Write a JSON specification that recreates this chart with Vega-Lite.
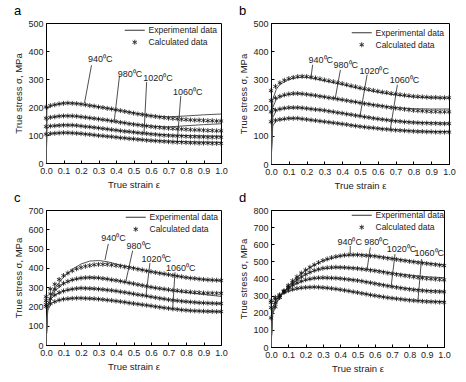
{
  "$schema": "https://vega.github.io/schema/vega-lite/v6.json",
  "padding": {"left": 13, "top": 4, "right": 4, "bottom": 2},
  "spacing": 1,
  "config": {
    "font": "Liberation Sans",
    "view": {"stroke": "#000", "strokeWidth": 1},
    "axis": {"labelFont": "Liberation Sans", "labelFontSize": 9, "titleFont": "Liberation Sans", "titleFontSize": 9.5, "titleFontWeight": "normal", "tickSize": -3, "labelPadding": 6, "grid": false, "domainColor": "#000", "tickColor": "#000", "labelColor": "#222", "titleColor": "#222", "titlePadding": 4, "labelOverlap": false, "labelFlush": false, "labelBound": false},
    "title": {"font": "Liberation Sans", "fontSize": 13, "fontWeight": "normal", "anchor": "start", "frame": "bounds", "offset": 1, "color": "#000"},
    "legend": {"orient": "none", "title": null, "labelFont": "Liberation Sans", "labelFontSize": 8.5, "labelColor": "#222", "symbolStrokeColor": "#333", "symbolFillColor": "transparent", "symbolStrokeWidth": 1, "symbolSize": 25, "labelOffset": 9.5, "rowPadding": 2, "padding": 0},
    "text": {"font": "Liberation Sans", "fontSize": 9, "color": "#222"}
  },
  "datasets": {
    "aC": [
      {"e":0,"t940":200,"t980":160,"t1020":130,"t1060":103},
      {"e":0.025,"t940":205,"t980":163,"t1020":132,"t1060":105},
      {"e":0.05,"t940":208,"t980":165,"t1020":133,"t1060":106},
      {"e":0.075,"t940":211,"t980":167,"t1020":134,"t1060":107},
      {"e":0.1,"t940":213,"t980":168,"t1020":135,"t1060":108},
      {"e":0.125,"t940":214,"t980":168,"t1020":135,"t1060":108},
      {"e":0.15,"t940":213,"t980":168,"t1020":135,"t1060":107},
      {"e":0.175,"t940":212,"t980":167,"t1020":134,"t1060":106},
      {"e":0.2,"t940":210,"t980":165,"t1020":132,"t1060":105},
      {"e":0.225,"t940":208,"t980":163,"t1020":130,"t1060":103},
      {"e":0.25,"t940":205,"t980":161,"t1020":129,"t1060":102},
      {"e":0.275,"t940":203,"t980":159,"t1020":127,"t1060":100},
      {"e":0.3,"t940":200,"t980":157,"t1020":125,"t1060":98},
      {"e":0.325,"t940":198,"t980":155,"t1020":123,"t1060":97},
      {"e":0.35,"t940":195,"t980":153,"t1020":121,"t1060":95},
      {"e":0.375,"t940":193,"t980":150,"t1020":119,"t1060":94},
      {"e":0.4,"t940":190,"t980":148,"t1020":117,"t1060":92},
      {"e":0.425,"t940":187,"t980":145,"t1020":115,"t1060":90},
      {"e":0.45,"t940":184,"t980":143,"t1020":113,"t1060":89},
      {"e":0.475,"t940":181,"t980":140,"t1020":112,"t1060":87},
      {"e":0.5,"t940":178,"t980":138,"t1020":110,"t1060":86},
      {"e":0.525,"t940":175,"t980":136,"t1020":108,"t1060":84},
      {"e":0.55,"t940":173,"t980":134,"t1020":106,"t1060":83},
      {"e":0.575,"t940":170,"t980":132,"t1020":105,"t1060":81},
      {"e":0.6,"t940":168,"t980":130,"t1020":103,"t1060":80},
      {"e":0.625,"t940":166,"t980":128,"t1020":102,"t1060":79},
      {"e":0.65,"t940":164,"t980":127,"t1020":100,"t1060":78},
      {"e":0.675,"t940":162,"t980":125,"t1020":99,"t1060":77},
      {"e":0.7,"t940":160,"t980":124,"t1020":98,"t1060":76},
      {"e":0.725,"t940":159,"t980":123,"t1020":97,"t1060":75},
      {"e":0.75,"t940":158,"t980":122,"t1020":96,"t1060":74},
      {"e":0.775,"t940":156,"t980":121,"t1020":96,"t1060":74},
      {"e":0.8,"t940":155,"t980":120,"t1020":95,"t1060":73},
      {"e":0.825,"t940":154,"t980":119,"t1020":94,"t1060":72},
      {"e":0.85,"t940":153,"t980":118,"t1020":94,"t1060":72},
      {"e":0.875,"t940":153,"t980":118,"t1020":93,"t1060":71},
      {"e":0.9,"t940":152,"t980":117,"t1020":93,"t1060":71},
      {"e":0.925,"t940":151,"t980":116,"t1020":92,"t1060":71},
      {"e":0.95,"t940":151,"t980":116,"t1020":92,"t1060":70},
      {"e":0.975,"t940":150,"t980":115,"t1020":92,"t1060":70},
      {"e":1,"t940":150,"t980":115,"t1020":92,"t1060":70}
    ],
    "aE": [
      {"e":0,"t940":0,"t980":0,"t1020":0,"t1060":0},
      {"e":0.005,"t940":190,"t980":150,"t1020":120,"t1060":95},
      {"e":0.02,"t940":203,"t980":162,"t1020":131,"t1060":104},
      {"e":0.05,"t940":208,"t980":165,"t1020":133,"t1060":106},
      {"e":0.1,"t940":214,"t980":169,"t1020":136,"t1060":108},
      {"e":0.15,"t940":214,"t980":168,"t1020":135,"t1060":107},
      {"e":0.2,"t940":211,"t980":165,"t1020":132,"t1060":105},
      {"e":0.3,"t940":201,"t980":157,"t1020":125,"t1060":98},
      {"e":0.4,"t940":190,"t980":148,"t1020":117,"t1060":92},
      {"e":0.5,"t940":179,"t980":139,"t1020":110,"t1060":86},
      {"e":0.6,"t940":169,"t980":132,"t1020":104,"t1060":81},
      {"e":0.65,"t940":166,"t980":130,"t1020":102,"t1060":79},
      {"e":0.7,"t940":165,"t980":129,"t1020":100,"t1060":78},
      {"e":0.8,"t940":168,"t980":133,"t1020":98,"t1060":76},
      {"e":0.9,"t940":172,"t980":137,"t1020":97,"t1060":75},
      {"e":1,"t940":175,"t980":140,"t1020":96,"t1060":74}
    ],
    "aR": [
      {"e":0.26,"s":349,"e2":0.22,"s2":214},
      {"e":0.42,"s":311,"e2":0.39,"s2":150},
      {"e":0.575,"s":289,"e2":0.56,"s2":105},
      {"e":0.77,"s":239,"e2":0.75,"s2":75}
    ],
    "aT": [
      {"label":"940⁰C","e":0.31,"s":371},
      {"label":"980⁰C","e":0.48,"s":319},
      {"label":"1020⁰C","e":0.64,"s":304},
      {"label":"1060⁰C","e":0.81,"s":254}
    ],
    "bC": [
      {"e":0,"t940":260,"t980":225,"t1020":185,"t1060":150},
      {"e":0.025,"t940":275,"t980":234,"t1020":191,"t1060":155},
      {"e":0.05,"t940":288,"t980":240,"t1020":195,"t1060":158},
      {"e":0.075,"t940":297,"t980":245,"t1020":198,"t1060":160},
      {"e":0.1,"t940":303,"t980":248,"t1020":200,"t1060":162},
      {"e":0.125,"t940":307,"t980":250,"t1020":200,"t1060":162},
      {"e":0.15,"t940":310,"t980":250,"t1020":200,"t1060":162},
      {"e":0.175,"t940":311,"t980":249,"t1020":199,"t1060":160},
      {"e":0.2,"t940":310,"t980":247,"t1020":197,"t1060":158},
      {"e":0.225,"t940":308,"t980":245,"t1020":195,"t1060":156},
      {"e":0.25,"t940":305,"t980":243,"t1020":193,"t1060":154},
      {"e":0.275,"t940":302,"t980":240,"t1020":192,"t1060":152},
      {"e":0.3,"t940":298,"t980":238,"t1020":190,"t1060":150},
      {"e":0.325,"t940":295,"t980":235,"t1020":187,"t1060":148},
      {"e":0.35,"t940":292,"t980":233,"t1020":185,"t1060":146},
      {"e":0.375,"t940":288,"t980":230,"t1020":182,"t1060":144},
      {"e":0.4,"t940":285,"t980":228,"t1020":180,"t1060":142},
      {"e":0.425,"t940":281,"t980":225,"t1020":177,"t1060":140},
      {"e":0.45,"t940":277,"t980":222,"t1020":175,"t1060":137},
      {"e":0.475,"t940":274,"t980":220,"t1020":172,"t1060":135},
      {"e":0.5,"t940":270,"t980":217,"t1020":170,"t1060":133},
      {"e":0.525,"t940":267,"t980":214,"t1020":167,"t1060":131},
      {"e":0.55,"t940":264,"t980":212,"t1020":165,"t1060":129},
      {"e":0.575,"t940":261,"t980":209,"t1020":162,"t1060":128},
      {"e":0.6,"t940":258,"t980":207,"t1020":160,"t1060":126},
      {"e":0.625,"t940":255,"t980":205,"t1020":158,"t1060":124},
      {"e":0.65,"t940":253,"t980":202,"t1020":156,"t1060":123},
      {"e":0.675,"t940":250,"t980":200,"t1020":154,"t1060":121},
      {"e":0.7,"t940":248,"t980":198,"t1020":152,"t1060":120},
      {"e":0.725,"t940":246,"t980":196,"t1020":151,"t1060":119},
      {"e":0.75,"t940":244,"t980":194,"t1020":149,"t1060":118},
      {"e":0.775,"t940":242,"t980":192,"t1020":148,"t1060":117},
      {"e":0.8,"t940":240,"t980":190,"t1020":147,"t1060":116},
      {"e":0.825,"t940":239,"t980":189,"t1020":146,"t1060":115},
      {"e":0.85,"t940":238,"t980":188,"t1020":145,"t1060":115},
      {"e":0.875,"t940":237,"t980":187,"t1020":145,"t1060":114},
      {"e":0.9,"t940":236,"t980":186,"t1020":144,"t1060":114},
      {"e":0.925,"t940":236,"t980":186,"t1020":144,"t1060":113},
      {"e":0.95,"t940":235,"t980":185,"t1020":143,"t1060":113},
      {"e":0.975,"t940":235,"t980":185,"t1020":143,"t1060":113},
      {"e":1,"t940":235,"t980":185,"t1020":143,"t1060":113}
    ],
    "bE": [
      {"e":0,"t940":0,"t980":0,"t1020":0,"t1060":0},
      {"e":0.01,"t940":230,"t980":200,"t1020":165,"t1060":135},
      {"e":0.03,"t940":265,"t980":230,"t1020":190,"t1060":155},
      {"e":0.05,"t940":282,"t980":238,"t1020":194,"t1060":157},
      {"e":0.1,"t940":300,"t980":247,"t1020":199,"t1060":161},
      {"e":0.15,"t940":307,"t980":250,"t1020":200,"t1060":162},
      {"e":0.2,"t940":308,"t980":247,"t1020":197,"t1060":158},
      {"e":0.3,"t940":295,"t980":238,"t1020":190,"t1060":150},
      {"e":0.4,"t940":282,"t980":228,"t1020":180,"t1060":142},
      {"e":0.5,"t940":267,"t980":217,"t1020":170,"t1060":133},
      {"e":0.6,"t940":255,"t980":208,"t1020":160,"t1060":126},
      {"e":0.7,"t940":245,"t980":200,"t1020":153,"t1060":121},
      {"e":0.8,"t940":238,"t980":196,"t1020":148,"t1060":117},
      {"e":0.9,"t940":235,"t980":195,"t1020":146,"t1060":115},
      {"e":1,"t940":234,"t980":195,"t1020":145,"t1060":115}
    ],
    "bR": [
      {"e":0.234,"s":352,"e2":0.225,"s2":308},
      {"e":0.39,"s":334,"e2":0.36,"s2":230},
      {"e":0.54,"s":317,"e2":0.5,"s2":170},
      {"e":0.71,"s":281,"e2":0.67,"s2":121}
    ],
    "bT": [
      {"label":"940⁰C","e":0.28,"s":368},
      {"label":"980⁰C","e":0.42,"s":352},
      {"label":"1020⁰C","e":0.58,"s":329},
      {"label":"1060⁰C","e":0.75,"s":297}
    ],
    "cC": [
      {"e":0,"t940":250,"t980":230,"t1020":210,"t1060":200},
      {"e":0.025,"t940":290,"t980":265,"t1020":240,"t1060":215},
      {"e":0.05,"t940":315,"t980":290,"t1020":260,"t1060":225},
      {"e":0.075,"t940":340,"t980":308,"t1020":272,"t1060":233},
      {"e":0.1,"t940":360,"t980":320,"t1020":280,"t1060":238},
      {"e":0.125,"t940":373,"t980":330,"t1020":286,"t1060":240},
      {"e":0.15,"t940":385,"t980":338,"t1020":290,"t1060":242},
      {"e":0.175,"t940":395,"t980":343,"t1020":293,"t1060":243},
      {"e":0.2,"t940":402,"t980":347,"t1020":295,"t1060":243},
      {"e":0.225,"t940":408,"t980":349,"t1020":294,"t1060":242},
      {"e":0.25,"t940":412,"t980":350,"t1020":293,"t1060":241},
      {"e":0.275,"t940":416,"t980":349,"t1020":292,"t1060":240},
      {"e":0.3,"t940":418,"t980":348,"t1020":290,"t1060":238},
      {"e":0.325,"t940":418,"t980":345,"t1020":288,"t1060":236},
      {"e":0.35,"t940":418,"t980":342,"t1020":285,"t1060":233},
      {"e":0.375,"t940":415,"t980":338,"t1020":283,"t1060":231},
      {"e":0.4,"t940":412,"t980":335,"t1020":280,"t1060":228},
      {"e":0.425,"t940":409,"t980":331,"t1020":276,"t1060":225},
      {"e":0.45,"t940":405,"t980":327,"t1020":273,"t1060":222},
      {"e":0.475,"t940":402,"t980":322,"t1020":269,"t1060":218},
      {"e":0.5,"t940":398,"t980":318,"t1020":265,"t1060":215},
      {"e":0.525,"t940":393,"t980":313,"t1020":261,"t1060":212},
      {"e":0.55,"t940":389,"t980":309,"t1020":258,"t1060":209},
      {"e":0.575,"t940":384,"t980":304,"t1020":254,"t1060":206},
      {"e":0.6,"t940":380,"t980":300,"t1020":250,"t1060":203},
      {"e":0.625,"t940":376,"t980":296,"t1020":246,"t1060":199},
      {"e":0.65,"t940":372,"t980":293,"t1020":242,"t1060":196},
      {"e":0.675,"t940":369,"t980":290,"t1020":239,"t1060":193},
      {"e":0.7,"t940":365,"t980":287,"t1020":235,"t1060":190},
      {"e":0.725,"t940":361,"t980":284,"t1020":232,"t1060":187},
      {"e":0.75,"t940":357,"t980":282,"t1020":230,"t1060":185},
      {"e":0.775,"t940":354,"t980":279,"t1020":227,"t1060":182},
      {"e":0.8,"t940":350,"t980":277,"t1020":225,"t1060":180},
      {"e":0.825,"t940":347,"t980":275,"t1020":223,"t1060":178},
      {"e":0.85,"t940":345,"t980":273,"t1020":221,"t1060":177},
      {"e":0.875,"t940":342,"t980":272,"t1020":219,"t1060":176},
      {"e":0.9,"t940":340,"t980":270,"t1020":218,"t1060":175},
      {"e":0.925,"t940":338,"t980":269,"t1020":217,"t1060":174},
      {"e":0.95,"t940":337,"t980":269,"t1020":216,"t1060":174},
      {"e":0.975,"t940":336,"t980":268,"t1020":215,"t1060":173},
      {"e":1,"t940":335,"t980":268,"t1020":215,"t1060":173}
    ],
    "cE": [
      {"e":0,"t940":0,"t980":0,"t1020":0,"t1060":0},
      {"e":0.01,"t940":210,"t980":200,"t1020":190,"t1060":180},
      {"e":0.03,"t940":260,"t980":250,"t1020":240,"t1060":215},
      {"e":0.05,"t940":295,"t980":280,"t1020":258,"t1060":225},
      {"e":0.1,"t940":352,"t980":318,"t1020":280,"t1060":238},
      {"e":0.15,"t940":392,"t980":338,"t1020":290,"t1060":242},
      {"e":0.2,"t940":420,"t980":347,"t1020":295,"t1060":243},
      {"e":0.25,"t940":435,"t980":350,"t1020":293,"t1060":241},
      {"e":0.3,"t940":438,"t980":348,"t1020":290,"t1060":238},
      {"e":0.35,"t940":432,"t980":342,"t1020":285,"t1060":233},
      {"e":0.4,"t940":420,"t980":335,"t1020":280,"t1060":228},
      {"e":0.5,"t940":400,"t980":318,"t1020":265,"t1060":215},
      {"e":0.6,"t940":381,"t980":300,"t1020":250,"t1060":203},
      {"e":0.7,"t940":365,"t980":285,"t1020":235,"t1060":190},
      {"e":0.8,"t940":350,"t980":272,"t1020":225,"t1060":180},
      {"e":0.9,"t940":340,"t980":262,"t1020":218,"t1060":175},
      {"e":1,"t940":333,"t980":252,"t1020":215,"t1060":173}
    ],
    "cR": [
      {"e":0.356,"s":524,"e2":0.337,"s2":441},
      {"e":0.495,"s":489,"e2":0.457,"s2":333},
      {"e":0.594,"s":425,"e2":0.571,"s2":255},
      {"e":0.737,"s":377,"e2":0.724,"s2":190}
    ],
    "cT": [
      {"label":"940⁰C","e":0.385,"s":553},
      {"label":"980⁰C","e":0.53,"s":515},
      {"label":"1020⁰C","e":0.63,"s":446},
      {"label":"1060⁰C","e":0.77,"s":398}
    ],
    "dC": [
      {"e":0,"t940":170,"t980":230,"t1020":260,"t1060":270},
      {"e":0.025,"t940":235,"t980":260,"t1020":280,"t1060":290},
      {"e":0.05,"t940":290,"t980":290,"t1020":300,"t1060":305},
      {"e":0.075,"t940":328,"t980":322,"t1020":325,"t1060":320},
      {"e":0.1,"t940":360,"t980":350,"t1020":345,"t1060":330},
      {"e":0.125,"t940":387,"t980":374,"t1020":362,"t1060":337},
      {"e":0.15,"t940":410,"t980":395,"t1020":375,"t1060":342},
      {"e":0.175,"t940":432,"t980":411,"t1020":385,"t1060":346},
      {"e":0.2,"t940":450,"t980":425,"t1020":393,"t1060":348},
      {"e":0.225,"t940":466,"t980":437,"t1020":398,"t1060":349},
      {"e":0.25,"t940":480,"t980":447,"t1020":402,"t1060":350},
      {"e":0.275,"t940":493,"t980":454,"t1020":404,"t1060":349},
      {"e":0.3,"t940":505,"t980":460,"t1020":405,"t1060":347},
      {"e":0.325,"t940":514,"t980":463,"t1020":404,"t1060":345},
      {"e":0.35,"t940":522,"t980":465,"t1020":403,"t1060":342},
      {"e":0.375,"t940":528,"t980":466,"t1020":402,"t1060":339},
      {"e":0.4,"t940":532,"t980":465,"t1020":400,"t1060":335},
      {"e":0.425,"t940":536,"t980":464,"t1020":397,"t1060":331},
      {"e":0.45,"t940":538,"t980":462,"t1020":394,"t1060":327},
      {"e":0.475,"t940":538,"t980":460,"t1020":391,"t1060":322},
      {"e":0.5,"t940":538,"t980":458,"t1020":388,"t1060":318},
      {"e":0.525,"t940":536,"t980":455,"t1020":384,"t1060":313},
      {"e":0.55,"t940":534,"t980":452,"t1020":379,"t1060":309},
      {"e":0.575,"t940":532,"t980":448,"t1020":375,"t1060":304},
      {"e":0.6,"t940":530,"t980":445,"t1020":370,"t1060":300},
      {"e":0.625,"t940":526,"t980":441,"t1020":365,"t1060":296},
      {"e":0.65,"t940":522,"t980":437,"t1020":361,"t1060":292},
      {"e":0.675,"t940":518,"t980":432,"t1020":356,"t1060":288},
      {"e":0.7,"t940":515,"t980":428,"t1020":352,"t1060":285},
      {"e":0.725,"t940":511,"t980":424,"t1020":348,"t1060":282},
      {"e":0.75,"t940":507,"t980":420,"t1020":344,"t1060":279},
      {"e":0.775,"t940":504,"t980":416,"t1020":340,"t1060":276},
      {"e":0.8,"t940":500,"t980":413,"t1020":337,"t1060":273},
      {"e":0.825,"t940":497,"t980":409,"t1020":334,"t1060":271},
      {"e":0.85,"t940":493,"t980":406,"t1020":331,"t1060":269},
      {"e":0.875,"t940":490,"t980":403,"t1020":329,"t1060":267},
      {"e":0.9,"t940":487,"t980":400,"t1020":327,"t1060":265},
      {"e":0.925,"t940":484,"t980":398,"t1020":325,"t1060":264},
      {"e":0.95,"t940":481,"t980":396,"t1020":324,"t1060":263},
      {"e":0.975,"t940":478,"t980":394,"t1020":323,"t1060":262},
      {"e":1,"t940":475,"t980":392,"t1020":322,"t1060":261}
    ],
    "dE": [
      {"e":0,"t940":0,"t980":0,"t1020":0,"t1060":0},
      {"e":0.01,"t940":200,"t980":190,"t1020":220,"t1060":230},
      {"e":0.03,"t940":250,"t980":255,"t1020":270,"t1060":280},
      {"e":0.05,"t940":290,"t980":290,"t1020":300,"t1060":300},
      {"e":0.1,"t940":355,"t980":345,"t1020":340,"t1060":325},
      {"e":0.15,"t940":405,"t980":390,"t1020":370,"t1060":340},
      {"e":0.2,"t940":445,"t980":422,"t1020":390,"t1060":347},
      {"e":0.25,"t940":478,"t980":445,"t1020":400,"t1060":350},
      {"e":0.3,"t940":503,"t980":458,"t1020":404,"t1060":347},
      {"e":0.4,"t940":532,"t980":465,"t1020":400,"t1060":335},
      {"e":0.5,"t940":540,"t980":460,"t1020":390,"t1060":318},
      {"e":0.6,"t940":532,"t980":448,"t1020":372,"t1060":300},
      {"e":0.7,"t940":518,"t980":432,"t1020":355,"t1060":285},
      {"e":0.8,"t940":503,"t980":420,"t1020":340,"t1060":275},
      {"e":0.9,"t940":490,"t980":410,"t1020":330,"t1060":268},
      {"e":1,"t940":480,"t980":405,"t1020":325,"t1060":265}
    ],
    "dR": [
      {"e":0.458,"s":590,"e2":0.458,"s2":543},
      {"e":0.574,"s":582,"e2":0.555,"s2":450},
      {"e":0.717,"s":543,"e2":0.694,"s2":350},
      {"e":0.87,"s":514,"e2":0.85,"s2":278}
    ],
    "dT": [
      {"label":"940⁰C","e":0.455,"s":615},
      {"label":"980⁰C","e":0.61,"s":615},
      {"label":"1020⁰C","e":0.755,"s":575},
      {"label":"1060⁰C","e":0.915,"s":550}
    ]
  },
  "resolve": {"scale": {"shape": "independent"}, "legend": {"shape": "independent"}},
  "vconcat": [
    {
      "spacing": 10,
      "resolve": {"scale": {"shape": "independent"}, "legend": {"shape": "independent"}},
      "hconcat": [
        {
          "title": "a", "width": 175, "height": 140,
          "encoding": {
            "x": {"field": "e", "type": "quantitative", "title": "True strain  ε", "scale": {"domain": [0,1], "nice": false}, "axis": {"values": [0,0.1,0.2,0.3,0.4,0.5,0.6,0.7,0.8,0.9,1], "format": ".1f"}},
            "y": {"field": "s", "type": "quantitative", "title": "True stress σ, MPa", "scale": {"domain": [0,500], "nice": false}, "axis": {"values": [0,100,200,300,400,500]}}
          },
          "layer": [
            {"data": {"name": "aE"}, "transform": [{"fold": ["t940","t980","t1020","t1060"], "as": ["T","s"]}],
             "mark": {"type": "line", "color": "#555", "strokeWidth": 1, "clip": true},
             "encoding": {"detail": {"field": "T"}}},
            {"data": {"name": "aC"}, "transform": [{"fold": ["t940","t980","t1020","t1060"], "as": ["T","s"]}],
             "mark": {"type": "point", "filled": false, "stroke": "#111", "strokeWidth": 0.8, "size": 25, "opacity": 1},
             "encoding": {"shape": {"datum": "Calculated data", "type": "nominal", "scale": {"domain": ["Experimental data","Calculated data"], "range": ["M-4,0H4", "M0,-1L0,1M-0.87,-0.5L0.87,0.5M-0.87,0.5L0.87,-0.5"]}, "legend": {"legendX": 84.5, "legendY": 3}}}},
            {"data": {"name": "aR"}, "mark": {"type": "rule", "color": "#222", "strokeWidth": 0.8},
             "encoding": {"x2": {"field": "e2"}, "y2": {"field": "s2"}}},
            {"data": {"name": "aT"}, "mark": {"type": "text", "align": "center", "baseline": "middle"},
             "encoding": {"text": {"field": "label"}}}
          ]
        },
        {
          "title": "b", "width": 178, "height": 141,
          "encoding": {
            "x": {"field": "e", "type": "quantitative", "title": "True strain  ε", "scale": {"domain": [0,1], "nice": false}, "axis": {"values": [0,0.1,0.2,0.3,0.4,0.5,0.6,0.7,0.8,0.9,1], "format": ".1f"}},
            "y": {"field": "s", "type": "quantitative", "title": "True stress σ, MPa", "scale": {"domain": [0,500], "nice": false}, "axis": {"values": [0,100,200,300,400,500]}}
          },
          "layer": [
            {"data": {"name": "bE"}, "transform": [{"fold": ["t940","t980","t1020","t1060"], "as": ["T","s"]}],
             "mark": {"type": "line", "color": "#555", "strokeWidth": 1, "clip": true},
             "encoding": {"detail": {"field": "T"}}},
            {"data": {"name": "bC"}, "transform": [{"fold": ["t940","t980","t1020","t1060"], "as": ["T","s"]}],
             "mark": {"type": "point", "filled": false, "stroke": "#111", "strokeWidth": 0.8, "size": 25, "opacity": 1},
             "encoding": {"shape": {"datum": "Calculated data", "type": "nominal", "scale": {"domain": ["Experimental data","Calculated data"], "range": ["M-4,0H4", "M0,-1L0,1M-0.87,-0.5L0.87,0.5M-0.87,0.5L0.87,-0.5"]}, "legend": {"legendX": 86.5, "legendY": 5.5}}}},
            {"data": {"name": "bR"}, "mark": {"type": "rule", "color": "#222", "strokeWidth": 0.8},
             "encoding": {"x2": {"field": "e2"}, "y2": {"field": "s2"}}},
            {"data": {"name": "bT"}, "mark": {"type": "text", "align": "center", "baseline": "middle"},
             "encoding": {"text": {"field": "label"}}}
          ]
        }
      ]
    },
    {
      "spacing": 10,
      "resolve": {"scale": {"shape": "independent"}, "legend": {"shape": "independent"}},
      "hconcat": [
        {
          "title": "c", "width": 175, "height": 135,
          "encoding": {
            "x": {"field": "e", "type": "quantitative", "title": "True strain  ε", "scale": {"domain": [0,1], "nice": false}, "axis": {"values": [0,0.1,0.2,0.3,0.4,0.5,0.6,0.7,0.8,0.9,1], "format": ".1f"}},
            "y": {"field": "s", "type": "quantitative", "title": "True stress σ, MPa", "scale": {"domain": [0,700], "nice": false}, "axis": {"values": [0,100,200,300,400,500,600,700]}}
          },
          "layer": [
            {"data": {"name": "cE"}, "transform": [{"fold": ["t940","t980","t1020","t1060"], "as": ["T","s"]}],
             "mark": {"type": "line", "color": "#555", "strokeWidth": 1, "clip": true},
             "encoding": {"detail": {"field": "T"}}},
            {"data": {"name": "cC"}, "transform": [{"fold": ["t940","t980","t1020","t1060"], "as": ["T","s"]}],
             "mark": {"type": "point", "filled": false, "stroke": "#111", "strokeWidth": 0.8, "size": 25, "opacity": 1},
             "encoding": {"shape": {"datum": "Calculated data", "type": "nominal", "scale": {"domain": ["Experimental data","Calculated data"], "range": ["M-4,0H4", "M0,-1L0,1M-0.87,-0.5L0.87,0.5M-0.87,0.5L0.87,-0.5"]}, "legend": {"legendX": 85.5, "legendY": 3}}}},
            {"data": {"name": "cR"}, "mark": {"type": "rule", "color": "#222", "strokeWidth": 0.8},
             "encoding": {"x2": {"field": "e2"}, "y2": {"field": "s2"}}},
            {"data": {"name": "cT"}, "mark": {"type": "text", "align": "center", "baseline": "middle"},
             "encoding": {"text": {"field": "label"}}}
          ]
        },
        {
          "title": "d", "width": 173, "height": 137,
          "encoding": {
            "x": {"field": "e", "type": "quantitative", "title": "True strain  ε", "scale": {"domain": [0,1], "nice": false}, "axis": {"values": [0,0.1,0.2,0.3,0.4,0.5,0.6,0.7,0.8,0.9,1], "format": ".1f"}},
            "y": {"field": "s", "type": "quantitative", "title": "True stress σ, MPa", "scale": {"domain": [0,800], "nice": false}, "axis": {"values": [0,100,200,300,400,500,600,700,800]}}
          },
          "layer": [
            {"data": {"name": "dE"}, "transform": [{"fold": ["t940","t980","t1020","t1060"], "as": ["T","s"]}],
             "mark": {"type": "line", "color": "#555", "strokeWidth": 1, "clip": true},
             "encoding": {"detail": {"field": "T"}}},
            {"data": {"name": "dC"}, "transform": [{"fold": ["t940","t980","t1020","t1060"], "as": ["T","s"]}],
             "mark": {"type": "point", "filled": false, "stroke": "#111", "strokeWidth": 0.8, "size": 25, "opacity": 1},
             "encoding": {"shape": {"datum": "Calculated data", "type": "nominal", "scale": {"domain": ["Experimental data","Calculated data"], "range": ["M-4,0H4", "M0,-1L0,1M-0.87,-0.5L0.87,0.5M-0.87,0.5L0.87,-0.5"]}, "legend": {"legendX": 86.5, "legendY": 1}}}},
            {"data": {"name": "dR"}, "mark": {"type": "rule", "color": "#222", "strokeWidth": 0.8},
             "encoding": {"x2": {"field": "e2"}, "y2": {"field": "s2"}}},
            {"data": {"name": "dT"}, "mark": {"type": "text", "align": "center", "baseline": "middle"},
             "encoding": {"text": {"field": "label"}}}
          ]
        }
      ]
    }
  ]
}
